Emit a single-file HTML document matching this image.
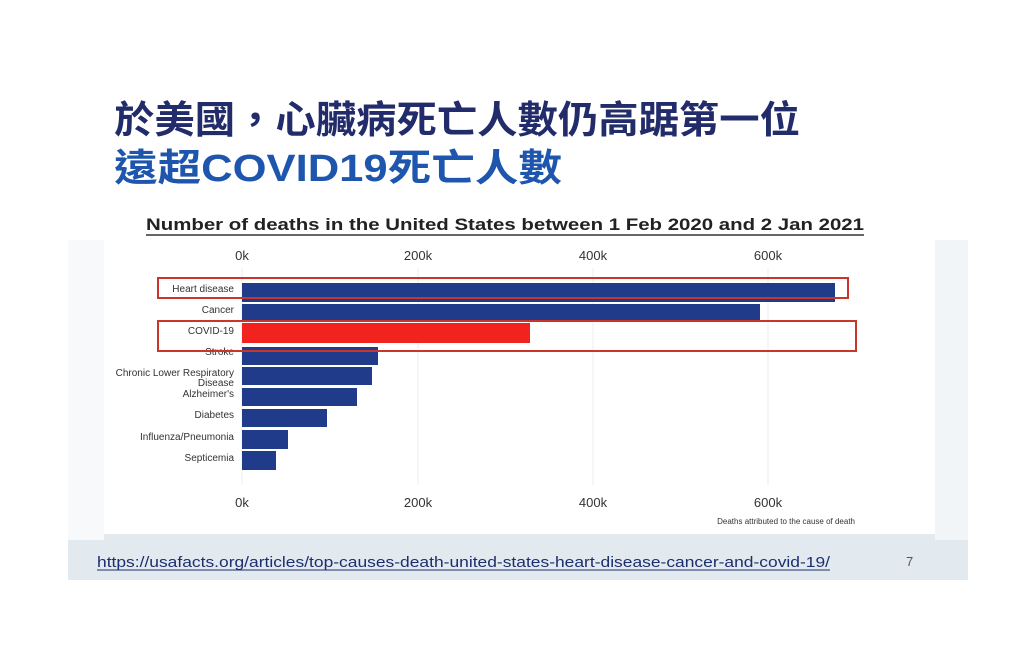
<!DOCTYPE html>
<html><head><meta charset="utf-8"><style>
html,body{margin:0;padding:0;background:#fff;}
svg{display:block}
</style></head><body>
<svg width="1024" height="664" viewBox="0 0 1024 664" xmlns="http://www.w3.org/2000/svg">
<rect width="1024" height="664" fill="#fff"/>
<rect x="68" y="534" width="900" height="46" fill="#e2e9ef"/>
<rect x="935" y="240" width="33" height="300" fill="#f2f5f8"/>
<rect x="68" y="240" width="36" height="300" fill="#f7f9fa"/>
<text x="114" y="133" font-family="'Liberation Sans','Noto Sans CJK TC',sans-serif" font-size="38" font-weight="bold" fill="#232c6b" textLength="686" lengthAdjust="spacingAndGlyphs">於美國，心臟病死亡人數仍高踞第一位</text>
<text x="114" y="181" font-family="'Liberation Sans','Noto Sans CJK TC',sans-serif" font-size="38" font-weight="bold" fill="#1e56ad" textLength="448" lengthAdjust="spacingAndGlyphs">遠超COVID19死亡人數</text>
<text x="146" y="230" font-family="'Liberation Sans',sans-serif" font-size="17" font-weight="bold" fill="#222" textLength="718" lengthAdjust="spacingAndGlyphs">Number of deaths in the United States between 1 Feb 2020 and 2 Jan 2021</text>
<line x1="146" y1="235" x2="864" y2="235" stroke="#333" stroke-width="1.5"/>
<g stroke="#eee" stroke-width="1">
<line x1="242" y1="268" x2="242" y2="485"/><line x1="418" y1="268" x2="418" y2="485"/>
<line x1="593" y1="268" x2="593" y2="485"/><line x1="768" y1="268" x2="768" y2="485"/>
</g>
<g font-family="'Liberation Sans',sans-serif" font-size="13" fill="#333" text-anchor="middle">
<text x="242" y="260">0k</text><text x="418" y="260">200k</text><text x="593" y="260">400k</text><text x="768" y="260">600k</text>
<text x="242" y="507">0k</text><text x="418" y="507">200k</text><text x="593" y="507">400k</text><text x="768" y="507">600k</text>
</g>
<g fill="#1f3b8a">
<rect x="242" y="283" width="593" height="19"/>
<rect x="242" y="304" width="518" height="17"/>
<rect x="242" y="347" width="136" height="18"/>
<rect x="242" y="367" width="130" height="18"/>
<rect x="242" y="388" width="115" height="18"/>
<rect x="242" y="409" width="85" height="18"/>
<rect x="242" y="430" width="46" height="19"/>
<rect x="242" y="451" width="34" height="19"/>
</g>
<rect x="242" y="323" width="288" height="20" fill="#f2231f"/>
<g font-family="'Liberation Sans',sans-serif" font-size="10" fill="#333" text-anchor="end">
<text x="234" y="292">Heart disease</text>
<text x="234" y="313">Cancer</text>
<text x="234" y="334">COVID-19</text>
<text x="234" y="355">Stroke</text>
<text x="234" y="376">Chronic Lower Respiratory</text>
<text x="234" y="386">Disease</text>
<text x="234" y="397">Alzheimer's</text>
<text x="234" y="418">Diabetes</text>
<text x="234" y="440">Influenza/Pneumonia</text>
<text x="234" y="461">Septicemia</text>
</g>
<rect x="158" y="278" width="690" height="20" fill="none" stroke="#c8352a" stroke-width="2"/>
<rect x="158" y="321" width="698" height="30" fill="none" stroke="#c8352a" stroke-width="2"/>
<text x="855" y="524" font-family="'Liberation Sans',sans-serif" font-size="8" fill="#333" text-anchor="end">Deaths attributed to the cause of death</text>
<text x="97" y="567" font-family="'Liberation Sans',sans-serif" font-size="15" fill="#1c2e6e" textLength="733" lengthAdjust="spacingAndGlyphs">https://usafacts.org/articles/top-causes-death-united-states-heart-disease-cancer-and-covid-19/</text>
<line x1="97" y1="570" x2="830" y2="570" stroke="#1c2e6e" stroke-width="1"/>
<text x="906" y="566" font-family="'Liberation Sans',sans-serif" font-size="13" fill="#555">7</text>
</svg>
</body></html>
